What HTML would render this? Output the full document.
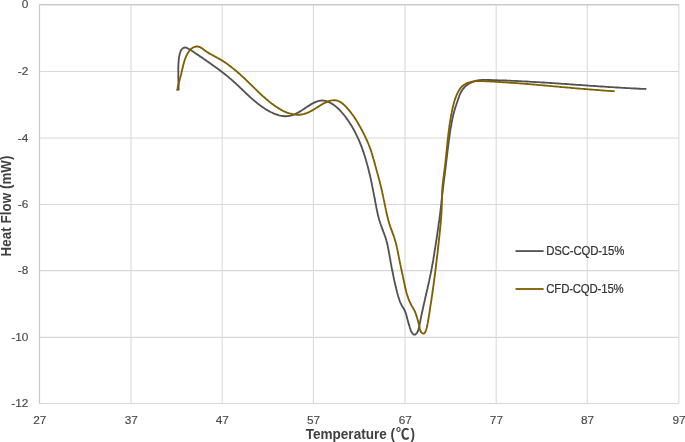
<!DOCTYPE html>
<html><head><meta charset="utf-8"><title>Heat Flow vs Temperature</title>
<style>
html,body{margin:0;padding:0;background:#fff;}
svg{display:block;}
text{font-family:"Liberation Sans","Noto Sans CJK SC",sans-serif;fill:#4f4f4f;}
.tick text{font-size:11.8px;fill:#484848;stroke:#484848;stroke-width:0.15px;}
.ttl{font-size:13.33px;font-weight:bold;fill:#404040;}
.leg text{font-size:11.4px;fill:#333;stroke:#333;stroke-width:0.2px;}
</style></head><body>
<svg width="685" height="442" viewBox="0 0 685 442">
<rect width="685" height="442" fill="#fff"/>
<g stroke="#d8d8d8" stroke-width="1.05" fill="none"><line x1="39.50" y1="4.60" x2="39.50" y2="403.45"/><line x1="131.05" y1="4.60" x2="131.05" y2="403.45"/><line x1="222.15" y1="4.60" x2="222.15" y2="403.45"/><line x1="313.40" y1="4.60" x2="313.40" y2="403.45"/><line x1="405.00" y1="4.60" x2="405.00" y2="403.45"/><line x1="496.20" y1="4.60" x2="496.20" y2="403.45"/><line x1="587.25" y1="4.60" x2="587.25" y2="403.45"/><line x1="678.85" y1="4.60" x2="678.85" y2="403.45"/><line x1="39.50" y1="4.60" x2="678.85" y2="4.60"/><line x1="39.50" y1="71.40" x2="678.85" y2="71.40"/><line x1="39.50" y1="137.95" x2="678.85" y2="137.95"/><line x1="39.50" y1="204.40" x2="678.85" y2="204.40"/><line x1="39.50" y1="270.60" x2="678.85" y2="270.60"/><line x1="39.50" y1="337.35" x2="678.85" y2="337.35"/><line x1="39.50" y1="403.45" x2="678.85" y2="403.45"/></g>
<g stroke="#c8c8c8" stroke-width="1.15" fill="none"><line x1="39.50" y1="4.60" x2="39.50" y2="403.45"/><line x1="39.50" y1="4.60" x2="678.85" y2="4.60"/></g>
<g class="tick"><text x="39.7" y="424" text-anchor="middle">27</text><text x="131.2" y="424" text-anchor="middle">37</text><text x="222.3" y="424" text-anchor="middle">47</text><text x="313.6" y="424" text-anchor="middle">57</text><text x="405.2" y="424" text-anchor="middle">67</text><text x="496.4" y="424" text-anchor="middle">77</text><text x="587.5" y="424" text-anchor="middle">87</text><text x="679.1" y="424" text-anchor="middle">97</text></g>
<g class="tick"><text x="28.3" y="8.4" text-anchor="end">0</text><text x="28.3" y="75.2" text-anchor="end">-2</text><text x="28.3" y="141.8" text-anchor="end">-4</text><text x="28.3" y="208.2" text-anchor="end">-6</text><text x="28.3" y="274.4" text-anchor="end">-8</text><text x="28.3" y="341.2" text-anchor="end">-10</text><text x="28.3" y="407.2" text-anchor="end">-12</text></g>
<text class="ttl" transform="translate(305.7,439) scale(1.018,1.08)">Temperature <tspan letter-spacing="0.9">(℃)</tspan></text>
<text class="ttl" transform="translate(11.1,206) rotate(-90) scale(1,1.06)" text-anchor="middle" letter-spacing="0.08">Heat Flow (mW)</text>
<path d="M178.6 90.6L178.6 89.3L178.6 88.0L178.6 86.7L178.5 85.4L178.5 84.1L178.5 82.8L178.4 81.5L178.4 80.2L178.4 78.9L178.3 77.6L178.3 76.3L178.3 75.0L178.3 73.7L178.3 72.4L178.3 71.1L178.3 69.8L178.3 68.5L178.3 67.2L178.4 65.9L178.4 64.6L178.5 63.3L178.6 62.0L178.7 60.7L178.8 59.4L178.9 58.2L179.1 56.9L179.4 55.6L179.6 54.3L180.0 53.1L180.4 51.8L180.9 50.6L181.6 49.5L182.5 48.5L183.7 47.8L184.9 47.5L186.1 47.6L187.3 48.2L188.4 48.8L189.6 49.4L190.7 50.1L191.8 50.8L192.9 51.5L194.0 52.2L195.0 52.9L196.1 53.7L197.2 54.4L198.3 55.1L199.3 55.9L200.4 56.6L201.5 57.3L202.6 58.1L203.6 58.8L204.7 59.5L205.8 60.3L206.8 61.0L207.9 61.7L209.0 62.5L210.0 63.2L211.1 64.0L212.1 64.7L213.2 65.5L214.3 66.2L215.3 67.0L216.4 67.7L217.4 68.5L218.4 69.3L219.5 70.0L220.5 70.8L221.5 71.6L222.6 72.4L223.6 73.2L224.6 74.0L225.6 74.8L226.6 75.6L227.6 76.4L228.6 77.2L229.6 78.1L230.6 78.9L231.6 79.8L232.6 80.6L233.5 81.5L234.5 82.4L235.5 83.2L236.4 84.1L237.4 85.0L238.3 85.9L239.3 86.8L240.2 87.7L241.2 88.6L242.1 89.5L243.0 90.4L244.0 91.3L244.9 92.2L245.9 93.1L246.8 94.0L247.8 94.9L248.7 95.8L249.7 96.7L250.7 97.6L251.6 98.4L252.6 99.3L253.6 100.1L254.6 101.0L255.6 101.8L256.6 102.6L257.6 103.5L258.6 104.2L259.6 105.0L260.7 105.8L261.7 106.6L262.8 107.3L263.9 108.0L264.9 108.7L266.0 109.4L267.2 110.1L268.3 110.7L269.4 111.4L270.6 112.0L271.8 112.5L273.0 113.1L274.1 113.6L275.4 114.1L276.6 114.5L277.8 114.9L279.0 115.3L280.3 115.6L281.5 115.8L282.8 116.0L284.0 116.2L285.3 116.2L286.6 116.2L287.8 116.1L289.1 115.9L290.3 115.7L291.6 115.4L292.8 115.0L294.0 114.5L295.3 114.0L296.5 113.4L297.7 112.8L298.9 112.1L300.0 111.4L301.2 110.7L302.3 110.0L303.5 109.3L304.6 108.5L305.6 107.8L306.7 107.1L307.7 106.4L308.8 105.7L309.8 105.1L310.9 104.4L311.9 103.8L313.1 103.2L314.2 102.7L315.4 102.1L316.7 101.6L318.0 101.2L319.3 100.8L320.6 100.6L321.9 100.5L323.2 100.6L324.5 100.7L325.7 101.0L327.0 101.4L328.2 101.8L329.4 102.4L330.5 103.0L331.7 103.6L332.8 104.3L333.8 105.0L334.9 105.8L335.9 106.6L336.9 107.4L337.8 108.3L338.8 109.2L339.7 110.1L340.6 111.0L341.4 112.0L342.3 113.0L343.1 113.9L344.0 115.0L344.8 116.0L345.6 117.0L346.3 118.1L347.1 119.1L347.9 120.2L348.6 121.2L349.3 122.3L350.0 123.4L350.7 124.5L351.4 125.6L352.1 126.7L352.7 127.9L353.4 129.0L354.0 130.1L354.6 131.3L355.2 132.4L355.8 133.6L356.4 134.8L356.9 135.9L357.5 137.1L358.0 138.3L358.6 139.5L359.1 140.7L359.6 141.9L360.1 143.1L360.6 144.3L361.1 145.5L361.5 146.7L362.0 147.9L362.4 149.1L362.9 150.4L363.3 151.6L363.7 152.8L364.1 154.0L364.5 155.3L364.9 156.5L365.3 157.7L365.7 159.0L366.0 160.2L366.4 161.5L366.7 162.7L367.1 164.0L367.4 165.2L367.8 166.5L368.1 167.7L368.4 169.0L368.7 170.3L369.0 171.5L369.3 172.8L369.6 174.0L369.9 175.3L370.2 176.6L370.5 177.8L370.8 179.1L371.1 180.4L371.3 181.7L371.6 182.9L371.9 184.2L372.1 185.5L372.4 186.8L372.6 188.0L372.9 189.3L373.1 190.6L373.4 191.9L373.6 193.1L373.9 194.4L374.1 195.7L374.4 197.0L374.6 198.3L374.9 199.5L375.1 200.8L375.3 202.1L375.6 203.4L375.8 204.6L376.1 205.9L376.3 207.2L376.6 208.5L376.8 209.7L377.1 211.0L377.4 212.3L377.6 213.5L377.9 214.8L378.2 216.0L378.5 217.3L378.9 218.6L379.2 219.8L379.6 221.0L380.0 222.3L380.4 223.5L380.8 224.8L381.3 226.0L381.7 227.2L382.2 228.4L382.6 229.7L383.1 230.9L383.5 232.1L384.0 233.3L384.4 234.5L384.9 235.8L385.3 237.0L385.7 238.2L386.1 239.5L386.4 240.7L386.8 241.9L387.1 243.2L387.4 244.5L387.7 245.7L387.9 247.0L388.2 248.3L388.4 249.6L388.7 250.8L388.9 252.1L389.1 253.4L389.4 254.7L389.6 256.0L389.8 257.2L390.1 258.5L390.3 259.8L390.5 261.1L390.7 262.4L391.0 263.6L391.2 264.9L391.4 266.2L391.7 267.5L391.9 268.7L392.2 270.0L392.4 271.3L392.7 272.6L392.9 273.8L393.2 275.1L393.4 276.4L393.7 277.6L394.0 278.9L394.2 280.2L394.5 281.5L394.8 282.7L395.1 284.0L395.4 285.3L395.7 286.5L396.0 287.8L396.3 289.0L396.6 290.3L396.9 291.6L397.2 292.8L397.6 294.1L397.9 295.3L398.3 296.6L398.7 297.8L399.1 299.1L399.5 300.3L399.9 301.5L400.4 302.7L401.0 303.9L401.6 305.1L402.2 306.2L402.9 307.3L403.6 308.4L404.2 309.5L404.8 310.7L405.3 311.9L405.7 313.1L406.1 314.3L406.5 315.6L406.8 316.9L407.1 318.1L407.5 319.4L407.8 320.6L408.1 321.9L408.5 323.1L408.9 324.4L409.3 325.6L409.6 326.8L410.0 328.1L410.4 329.3L410.9 330.6L411.4 331.8L412.1 332.9L413.0 334.0L414.1 334.7L415.2 334.6L416.2 333.8L417.0 332.7L417.7 331.6L418.2 330.4L418.6 329.1L418.9 327.8L419.2 326.6L419.4 325.3L419.7 324.0L419.9 322.7L420.2 321.4L420.5 320.1L420.7 318.9L421.0 317.6L421.2 316.3L421.5 315.1L421.8 313.8L422.0 312.5L422.3 311.3L422.6 310.0L422.9 308.7L423.1 307.5L423.4 306.2L423.7 304.9L424.0 303.7L424.3 302.4L424.6 301.1L424.9 299.9L425.1 298.6L425.4 297.3L425.7 296.1L426.0 294.8L426.3 293.5L426.6 292.3L426.9 291.0L427.2 289.7L427.5 288.5L427.7 287.2L428.0 285.9L428.3 284.7L428.6 283.4L428.9 282.1L429.2 280.9L429.4 279.6L429.7 278.3L430.0 277.0L430.2 275.8L430.5 274.5L430.8 273.2L431.0 272.0L431.3 270.7L431.5 269.4L431.8 268.1L432.0 266.9L432.2 265.6L432.5 264.3L432.7 263.0L432.9 261.7L433.2 260.5L433.4 259.2L433.6 257.9L433.8 256.6L434.0 255.3L434.2 254.1L434.4 252.8L434.6 251.5L434.8 250.2L435.0 248.9L435.2 247.7L435.4 246.4L435.6 245.1L435.8 243.8L436.0 242.5L436.2 241.2L436.4 240.0L436.6 238.7L436.8 237.4L437.0 236.1L437.2 234.8L437.3 233.5L437.5 232.2L437.7 231.0L437.9 229.7L438.1 228.4L438.3 227.1L438.5 225.8L438.6 224.5L438.8 223.2L439.0 222.0L439.2 220.7L439.4 219.4L439.5 218.1L439.7 216.8L439.9 215.5L440.0 214.2L440.2 212.9L440.4 211.7L440.5 210.4L440.7 209.1L440.8 207.8L441.0 206.5L441.1 205.2L441.3 203.9L441.4 202.6L441.5 201.3L441.7 200.0L441.8 198.7L442.0 197.5L442.1 196.2L442.2 194.9L442.4 193.6L442.5 192.3L442.7 191.0L442.8 189.7L443.0 188.4L443.1 187.1L443.3 185.8L443.4 184.6L443.6 183.3L443.7 182.0L443.9 180.7L444.1 179.4L444.2 178.1L444.4 176.8L444.6 175.5L444.7 174.2L444.9 173.0L445.0 171.7L445.2 170.4L445.4 169.1L445.5 167.8L445.7 166.5L445.8 165.2L446.0 163.9L446.1 162.6L446.3 161.3L446.5 160.1L446.6 158.8L446.8 157.5L446.9 156.2L447.1 154.9L447.2 153.6L447.4 152.3L447.5 151.0L447.7 149.7L447.9 148.5L448.0 147.2L448.2 145.9L448.3 144.6L448.5 143.3L448.7 142.0L448.8 140.7L449.0 139.4L449.2 138.2L449.4 136.9L449.6 135.6L449.7 134.3L449.9 133.0L450.1 131.7L450.3 130.4L450.5 129.2L450.7 127.9L451.0 126.6L451.2 125.3L451.4 124.0L451.6 122.8L451.9 121.5L452.1 120.2L452.4 118.9L452.7 117.7L452.9 116.4L453.2 115.1L453.6 113.9L453.9 112.6L454.2 111.4L454.6 110.1L454.9 108.9L455.3 107.6L455.7 106.4L456.1 105.2L456.5 103.9L456.9 102.7L457.4 101.5L457.8 100.2L458.2 99.0L458.6 97.8L459.1 96.6L459.5 95.3L460.0 94.1L460.6 93.0L461.2 91.8L461.8 90.7L462.5 89.6L463.3 88.6L464.2 87.6L465.1 86.6L466.1 85.8L467.1 85.0L468.1 84.2L469.2 83.5L470.4 82.9L471.6 82.3L472.8 81.8L474.0 81.4L475.2 81.0L476.5 80.7L477.8 80.4L479.0 80.2L480.3 80.1L481.6 80.0L482.9 79.9L484.2 79.9L485.5 79.9L486.8 79.9L488.1 80.0L489.4 80.0L490.7 80.0L492.0 80.1L493.3 80.1L494.6 80.1L495.9 80.2L497.2 80.2L498.5 80.3L499.8 80.3L501.1 80.3L502.4 80.4L503.7 80.4L505.0 80.5L506.3 80.5L507.6 80.6L508.9 80.6L510.2 80.7L511.5 80.8L512.8 80.8L514.1 80.9L515.4 80.9L516.7 81.0L518.0 81.1L519.3 81.1L520.6 81.2L521.9 81.3L523.1 81.3L524.4 81.4L525.7 81.5L527.0 81.5L528.3 81.6L529.6 81.7L530.9 81.8L532.2 81.8L533.5 81.9L534.8 82.0L536.1 82.1L537.4 82.1L538.7 82.2L540.0 82.3L541.3 82.4L542.6 82.5L543.9 82.5L545.2 82.6L546.5 82.7L547.8 82.8L549.1 82.9L550.4 83.0L551.7 83.1L553.0 83.1L554.3 83.2L555.6 83.3L556.9 83.4L558.2 83.5L559.4 83.6L560.7 83.7L562.0 83.8L563.3 83.9L564.6 83.9L565.9 84.0L567.2 84.1L568.5 84.2L569.8 84.3L571.1 84.4L572.4 84.5L573.7 84.6L575.0 84.7L576.3 84.8L577.6 84.8L578.9 84.9L580.2 85.0L581.5 85.1L582.8 85.2L584.1 85.3L585.4 85.4L586.7 85.5L588.0 85.6L589.3 85.7L590.5 85.8L591.8 85.8L593.1 85.9L594.4 86.0L595.7 86.1L597.0 86.2L598.3 86.3L599.6 86.4L600.9 86.5L602.2 86.5L603.5 86.6L604.8 86.7L606.1 86.8L607.4 86.9L608.7 87.0L610.0 87.1L611.3 87.1L612.6 87.2L613.9 87.3L615.2 87.4L616.5 87.5L617.8 87.5L619.1 87.6L620.4 87.7L621.7 87.8L623.0 87.8L624.2 87.9L625.5 88.0L626.8 88.1L628.1 88.1L629.4 88.2L630.7 88.3L632.0 88.3L633.3 88.4L634.6 88.5L635.9 88.5L637.2 88.6L638.5 88.7L639.8 88.7L641.1 88.8L642.4 88.8L643.7 88.9L645.0 88.9L646.3 89.0" fill="none" stroke="#525252" stroke-width="1.85" stroke-linejoin="round"/>
<path d="M177.0 90.6L177.3 89.4L177.6 88.2L177.8 86.9L178.1 85.7L178.4 84.5L178.8 83.3L179.1 82.1L179.4 80.9L179.7 79.6L180.0 78.4L180.3 77.2L180.6 76.0L181.0 74.8L181.3 73.6L181.6 72.3L181.9 71.1L182.1 69.9L182.4 68.7L182.7 67.5L183.0 66.2L183.3 65.0L183.6 63.8L184.0 62.6L184.3 61.4L184.7 60.2L185.1 59.0L185.5 57.9L186.0 56.7L186.5 55.5L187.1 54.4L187.7 53.3L188.4 52.2L189.1 51.2L189.9 50.2L190.8 49.3L191.7 48.5L192.7 47.8L193.8 47.2L195.0 46.8L196.2 46.5L197.4 46.5L198.5 46.6L199.7 47.0L200.8 47.6L201.9 48.3L203.0 49.1L204.1 49.9L205.2 50.7L206.3 51.5L207.4 52.2L208.5 52.9L209.6 53.6L210.7 54.2L211.8 54.8L212.9 55.4L214.0 56.0L215.0 56.6L216.1 57.1L217.2 57.7L218.2 58.3L219.3 58.9L220.4 59.5L221.4 60.1L222.5 60.8L223.5 61.4L224.5 62.1L225.6 62.8L226.6 63.5L227.6 64.2L228.6 65.0L229.6 65.7L230.6 66.5L231.6 67.3L232.6 68.1L233.6 68.9L234.6 69.7L235.6 70.5L236.6 71.3L237.5 72.2L238.5 73.0L239.5 73.8L240.4 74.7L241.4 75.6L242.3 76.4L243.2 77.3L244.2 78.1L245.1 79.0L246.0 79.9L246.9 80.8L247.8 81.6L248.7 82.5L249.6 83.4L250.5 84.2L251.4 85.1L252.3 86.0L253.1 86.8L254.0 87.7L254.9 88.6L255.8 89.4L256.7 90.3L257.5 91.1L258.4 92.0L259.3 92.8L260.2 93.7L261.1 94.5L262.0 95.4L262.9 96.2L263.9 97.0L264.8 97.8L265.7 98.7L266.7 99.5L267.7 100.3L268.6 101.1L269.6 101.9L270.6 102.7L271.6 103.5L272.7 104.3L273.7 105.0L274.8 105.8L275.8 106.5L276.9 107.2L278.0 107.9L279.1 108.6L280.2 109.3L281.3 109.9L282.4 110.5L283.6 111.1L284.7 111.6L285.9 112.1L287.0 112.6L288.2 113.0L289.3 113.4L290.5 113.7L291.7 114.0L292.9 114.3L294.0 114.5L295.2 114.6L296.4 114.7L297.6 114.7L298.8 114.7L300.0 114.7L301.2 114.5L302.4 114.3L303.6 114.1L304.8 113.7L306.0 113.3L307.2 112.9L308.4 112.4L309.6 111.8L310.7 111.2L311.9 110.6L313.1 109.9L314.2 109.2L315.3 108.5L316.5 107.8L317.6 107.1L318.7 106.4L319.7 105.7L320.8 105.1L321.8 104.5L322.8 103.9L323.8 103.3L324.9 102.8L325.9 102.3L327.0 101.8L328.2 101.4L329.4 101.0L330.7 100.7L332.1 100.4L333.4 100.3L334.7 100.2L336.0 100.4L337.2 100.6L338.3 101.0L339.4 101.5L340.5 102.1L341.5 102.8L342.5 103.5L343.4 104.4L344.4 105.2L345.3 106.1L346.2 107.0L347.0 108.0L347.9 108.9L348.7 109.8L349.5 110.8L350.3 111.8L351.1 112.8L351.8 113.8L352.6 114.8L353.3 115.8L354.0 116.8L354.7 117.9L355.4 118.9L356.1 120.0L356.7 121.0L357.4 122.1L358.0 123.2L358.6 124.3L359.3 125.4L359.9 126.5L360.5 127.5L361.1 128.7L361.7 129.8L362.3 130.9L362.8 132.0L363.4 133.1L364.0 134.2L364.5 135.3L365.1 136.5L365.6 137.6L366.2 138.8L366.7 139.9L367.2 141.0L367.7 142.2L368.2 143.3L368.6 144.5L369.1 145.7L369.6 146.8L370.0 148.0L370.4 149.2L370.9 150.4L371.3 151.6L371.6 152.8L372.0 153.9L372.4 155.1L372.7 156.4L373.1 157.6L373.4 158.8L373.8 160.0L374.1 161.2L374.4 162.4L374.8 163.6L375.1 164.8L375.4 166.0L375.8 167.2L376.1 168.4L376.4 169.7L376.8 170.9L377.1 172.1L377.4 173.3L377.8 174.5L378.1 175.7L378.4 176.9L378.7 178.1L379.1 179.3L379.4 180.5L379.7 181.8L380.0 183.0L380.3 184.2L380.6 185.4L380.9 186.6L381.2 187.8L381.5 189.1L381.8 190.3L382.1 191.5L382.3 192.7L382.6 194.0L382.9 195.2L383.1 196.4L383.4 197.6L383.6 198.9L383.9 200.1L384.2 201.3L384.4 202.5L384.7 203.8L384.9 205.0L385.2 206.2L385.4 207.5L385.7 208.7L385.9 209.9L386.2 211.1L386.5 212.4L386.7 213.6L387.0 214.8L387.3 216.0L387.6 217.3L387.9 218.5L388.2 219.7L388.5 220.9L388.8 222.1L389.2 223.3L389.6 224.5L390.0 225.7L390.4 226.9L390.8 228.1L391.2 229.2L391.7 230.4L392.1 231.6L392.5 232.8L392.9 234.0L393.4 235.1L393.8 236.3L394.2 237.5L394.6 238.7L394.9 239.9L395.3 241.1L395.7 242.3L396.0 243.5L396.3 244.7L396.6 246.0L396.8 247.2L397.1 248.4L397.4 249.6L397.6 250.9L397.8 252.1L398.1 253.3L398.3 254.6L398.6 255.8L398.8 257.0L399.1 258.3L399.3 259.5L399.6 260.7L399.8 262.0L400.1 263.2L400.3 264.4L400.6 265.6L400.8 266.9L401.1 268.1L401.4 269.3L401.6 270.5L401.9 271.8L402.1 273.0L402.4 274.2L402.7 275.4L402.9 276.7L403.2 277.9L403.4 279.1L403.7 280.3L404.0 281.6L404.2 282.8L404.5 284.0L404.7 285.3L405.0 286.5L405.3 287.7L405.6 289.0L405.9 290.2L406.2 291.4L406.5 292.6L406.8 293.8L407.2 295.0L407.6 296.2L408.0 297.4L408.4 298.6L408.8 299.7L409.3 300.9L409.8 302.0L410.4 303.2L410.9 304.3L411.5 305.4L412.2 306.5L412.8 307.6L413.4 308.7L414.0 309.8L414.6 310.9L415.1 312.0L415.5 313.2L416.0 314.4L416.4 315.6L416.8 316.8L417.1 318.0L417.5 319.2L417.8 320.4L418.2 321.5L418.5 322.7L418.8 324.0L419.1 325.2L419.4 326.4L419.6 327.7L419.8 329.0L420.1 330.2L420.6 331.4L421.3 332.4L422.4 333.3L423.5 333.6L424.4 333.2L425.2 332.1L425.7 330.9L426.2 329.6L426.6 328.3L426.9 327.1L427.2 325.8L427.4 324.6L427.7 323.4L427.9 322.2L428.1 321.0L428.3 319.7L428.5 318.5L428.7 317.3L428.9 316.1L429.1 314.8L429.3 313.6L429.5 312.4L429.7 311.1L429.9 309.9L430.1 308.7L430.2 307.4L430.4 306.2L430.6 305.0L430.8 303.7L431.0 302.5L431.2 301.2L431.4 300.0L431.6 298.8L431.7 297.5L431.9 296.3L432.1 295.0L432.3 293.8L432.5 292.5L432.6 291.3L432.8 290.0L433.0 288.8L433.2 287.6L433.3 286.3L433.5 285.1L433.7 283.8L433.8 282.6L434.0 281.3L434.2 280.1L434.3 278.8L434.5 277.6L434.7 276.3L434.8 275.1L435.0 273.9L435.2 272.6L435.3 271.4L435.5 270.1L435.6 268.9L435.8 267.6L435.9 266.4L436.1 265.1L436.2 263.9L436.4 262.7L436.5 261.4L436.7 260.2L436.8 258.9L437.0 257.7L437.1 256.4L437.3 255.2L437.4 253.9L437.6 252.7L437.7 251.5L437.8 250.2L438.0 249.0L438.1 247.7L438.3 246.5L438.4 245.2L438.5 244.0L438.7 242.7L438.8 241.5L438.9 240.2L439.1 239.0L439.2 237.8L439.3 236.5L439.5 235.3L439.6 234.0L439.7 232.8L439.8 231.5L440.0 230.3L440.1 229.0L440.2 227.8L440.3 226.5L440.5 225.3L440.6 224.0L440.7 222.8L440.8 221.5L440.9 220.3L441.0 219.0L441.1 217.8L441.2 216.5L441.3 215.3L441.4 214.0L441.5 212.8L441.5 211.5L441.6 210.3L441.7 209.0L441.7 207.7L441.7 206.5L441.8 205.2L441.8 204.0L441.8 202.7L441.9 201.5L441.9 200.2L441.9 199.0L442.0 197.7L442.0 196.5L442.0 195.2L442.1 194.0L442.1 192.7L442.2 191.4L442.3 190.2L442.3 188.9L442.4 187.7L442.5 186.5L442.6 185.2L442.8 184.0L442.9 182.7L443.0 181.5L443.2 180.2L443.3 179.0L443.5 177.7L443.7 176.5L443.8 175.2L444.0 174.0L444.1 172.8L444.3 171.5L444.5 170.3L444.6 169.0L444.8 167.8L444.9 166.5L445.1 165.3L445.2 164.0L445.4 162.8L445.5 161.5L445.6 160.3L445.8 159.0L445.9 157.8L446.0 156.5L446.2 155.3L446.3 154.1L446.4 152.8L446.5 151.6L446.7 150.3L446.8 149.1L446.9 147.8L447.0 146.6L447.2 145.3L447.3 144.1L447.4 142.8L447.5 141.6L447.7 140.3L447.8 139.1L448.0 137.8L448.1 136.6L448.2 135.3L448.4 134.1L448.5 132.9L448.7 131.6L448.8 130.4L449.0 129.1L449.2 127.9L449.3 126.6L449.5 125.4L449.7 124.2L449.9 122.9L450.1 121.7L450.3 120.4L450.5 119.2L450.7 118.0L450.9 116.7L451.1 115.5L451.3 114.3L451.6 113.0L451.8 111.8L452.1 110.6L452.3 109.3L452.6 108.1L452.9 106.9L453.2 105.7L453.5 104.4L453.8 103.2L454.1 102.0L454.5 100.8L454.9 99.6L455.3 98.4L455.7 97.3L456.2 96.1L456.7 94.9L457.2 93.8L457.7 92.7L458.3 91.6L458.9 90.5L459.6 89.4L460.3 88.4L461.1 87.4L462.0 86.5L462.9 85.7L463.9 84.9L465.0 84.3L466.2 83.6L467.3 83.1L468.5 82.6L469.7 82.3L470.9 81.9L472.1 81.7L473.3 81.5L474.5 81.3L475.8 81.2L477.0 81.1L478.3 81.1L479.5 81.1L480.8 81.1L482.0 81.1L483.3 81.1L484.6 81.2L485.8 81.2L487.1 81.3L488.4 81.4L489.6 81.4L490.9 81.5L492.1 81.6L493.4 81.6L494.7 81.7L495.9 81.8L497.2 81.8L498.4 81.9L499.7 82.0L501.0 82.1L502.2 82.2L503.5 82.2L504.7 82.3L506.0 82.4L507.2 82.5L508.5 82.6L509.7 82.7L511.0 82.7L512.2 82.8L513.5 82.9L514.7 83.0L516.0 83.1L517.2 83.2L518.5 83.3L519.7 83.4L521.0 83.5L522.2 83.6L523.5 83.7L524.7 83.8L526.0 83.9L527.2 84.0L528.5 84.1L529.7 84.2L530.9 84.3L532.2 84.4L533.4 84.5L534.7 84.6L535.9 84.7L537.2 84.8L538.4 85.0L539.7 85.1L540.9 85.2L542.1 85.3L543.4 85.4L544.6 85.5L545.9 85.6L547.1 85.7L548.4 85.8L549.6 85.9L550.8 86.1L552.1 86.2L553.3 86.3L554.6 86.4L555.8 86.5L557.1 86.6L558.3 86.7L559.5 86.8L560.8 87.0L562.0 87.1L563.3 87.2L564.5 87.3L565.8 87.4L567.0 87.5L568.3 87.6L569.5 87.7L570.8 87.8L572.0 88.0L573.2 88.1L574.5 88.2L575.7 88.3L577.0 88.4L578.2 88.5L579.5 88.6L580.7 88.7L582.0 88.8L583.2 88.9L584.5 89.0L585.7 89.1L587.0 89.2L588.2 89.3L589.5 89.4L590.7 89.5L592.0 89.6L593.2 89.7L594.5 89.8L595.7 89.9L597.0 90.0L598.3 90.1L599.5 90.2L600.8 90.3L602.0 90.4L603.3 90.5L604.5 90.6L605.8 90.7L607.1 90.8L608.3 90.9L609.6 90.9L610.9 91.0L612.1 91.1L613.4 91.2L614.7 91.3" fill="none" stroke="#7f6000" stroke-width="1.85" stroke-linejoin="round"/>
<g class="leg" letter-spacing="-0.17">
<line x1="515.5" y1="251.1" x2="543.6" y2="251.1" stroke="#525252" stroke-width="1.85"/>
<text transform="translate(546.3,254.8) scale(1,1.05)">DSC-CQD-15%</text>
<line x1="515.5" y1="289" x2="543.6" y2="289" stroke="#7f6000" stroke-width="1.85"/>
<text transform="translate(546.3,292.7) scale(1,1.05)">CFD-CQD-15%</text>
</g>
</svg>
</body></html>
